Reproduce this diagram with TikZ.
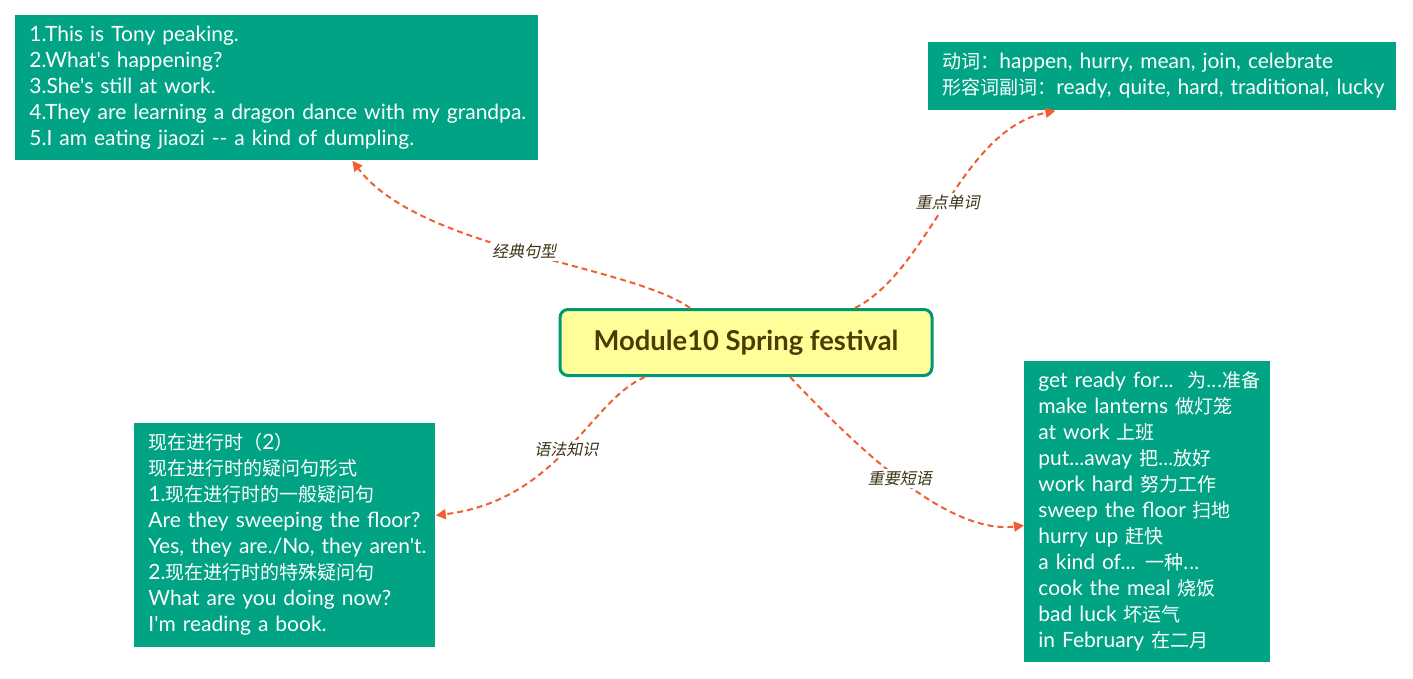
\documentclass[tikz,border=0pt]{standalone}
\usepackage{fontspec}
\setmainfont{Lato}[Ligatures=TeXOff]
\newfontfamily\zhfont{Noto Sans CJK SC}[Scale=0.905]
\newfontfamily\tagfont{Noto Sans CJK SC}[FakeSlant=0.2]
\newcommand{\zh}[1]{{\zhfont #1}}
\newcommand{\lines}[1]{\begin{tabular}{@{}l@{}}#1\end{tabular}}
\usetikzlibrary{arrows.meta}
\definecolor{leafteal}{RGB}{0,163,132}
\definecolor{rimteal}{RGB}{0,150,120}
\definecolor{topicfill}{RGB}{255,255,153}
\definecolor{topicink}{RGB}{77,60,0}
\definecolor{branchink}{RGB}{240,95,50}
\definecolor{tagink}{RGB}{60,50,20}

\begin{document}
\begin{tikzpicture}[
  x=0.5pt, y=-0.5pt,
  topic/.style={draw=rimteal, line width=1.5pt, rounded corners=4pt, fill=topicfill, text=topicink, font=\fontsize{13.7}{16}\selectfont\bfseries, minimum width=186pt, minimum height=33pt, inner sep=0pt},
  leafbox/.style={fill=leafteal, text=white, align=left, inner xsep=7pt, inner ysep=2pt, anchor=north west, font=\fontsize{10.5}{13}\selectfont},
  branch/.style={draw=branchink, line width=1pt, dash pattern=on 3pt off 2pt, -{Triangle[length=5pt, width=5pt]}},
  tag/.style={fill=white, text=tagink, inner sep=1pt, font=\tagfont\fontsize{8}{9}\selectfont}
]
\useasboundingbox (0,0) rectangle (1413,679);
\node[topic] (topic) at (746,342.5) {Module10 Spring festival};
\node[leafbox, text width=247.5pt, minimum height=72.5pt] (sentences) at (15,15) {\lines{1.This is Tony peaking.\\2.What's happening?\\3.She's still at work.\\4.They are learning a dragon dance with my grandpa.\\5.I am eating jiaozi -- a kind of dumpling.}};
\node[leafbox, text width=220pt, minimum height=34pt] (words) at (928,42) {\lines{\zh{动词：}happen, hurry, mean, join, celebrate\\\zh{形容词副词：}ready, quite, hard, traditional, lucky}};
\node[leafbox, text width=136.5pt, minimum height=112pt] (grammar) at (134,423) {\lines{\zh{现在进行时（}2\zh{）}\\\zh{现在进行时的疑问句形式}\\1.\zh{现在进行时的一般疑问句}\\Are they sweeping the floor?\\Yes, they are./No, they aren't.\\2.\zh{现在进行时的特殊疑问句}\\What are you doing now?\\I'm reading a book.}};
\node[leafbox, text width=109pt, minimum height=150.5pt] (phrases) at (1024,361) {\lines{get ready for...\ \ \zh{为...准备}\\make lanterns \zh{做灯笼}\\at work \zh{上班}\\put...away \zh{把...放好}\\work hard \zh{努力工作}\\sweep the floor \zh{扫地}\\hurry up \zh{赶快}\\a kind of... \zh{一种...}\\cook the meal \zh{烧饭}\\bad luck \zh{坏运气}\\in February \zh{在二月}}};
% branches
\draw[branch] ([xshift=-28pt]topic.north) .. controls (630,265) and (420,250) .. ([xshift=37.75pt]sentences.south) node[pos=0.5, tag] (tagsent) {经典句型};
\draw[branch] ([xshift=54.5pt]topic.north) .. controls (930,270) and (960,130) .. ([xshift=-53.5pt]words.south) node[pos=0.5, tag] (tagwords) {重点单词};
\draw[branch] ([xshift=-50.5pt]topic.south) .. controls (590,400) and (560,500) .. ([yshift=10pt]grammar.east) node[pos=0.5, tag] (taggrammar) {语法知识};
\draw[branch] ([xshift=22pt]topic.south) .. controls (850,440) and (945,535) .. ([yshift=-6.75pt]phrases.west) node[pos=0.5, tag] (tagphrases) {重要短语};
\end{tikzpicture}
\end{document}
